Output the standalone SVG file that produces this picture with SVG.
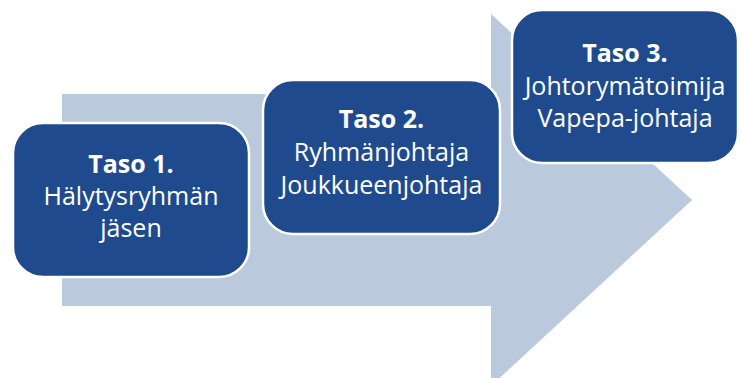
<svg xmlns="http://www.w3.org/2000/svg" width="741" height="378" viewBox="0 0 741 378">
<style>
.box{fill:#1F4B8E;stroke:#FFFFFF;stroke-width:2.5}
text{font-family:"Open Sans","Liberation Sans",sans-serif;font-size:25px;fill:#FFFFFF;text-anchor:middle}
.b{font-weight:bold}
</style>
<rect width="741" height="378" fill="#FFFFFF"/>
<g id="arrow">
<polygon points="62,94 491,94 491,14 692,200 491,386 491,306 62,306" fill="#BACADC"/>
</g>
<g id="connectors"></g>
<g id="level1">
<rect class="box" x="13" y="123" width="236" height="154" rx="30"/>
<text class="b" x="131" y="173">Taso 1.</text>
<text x="131" y="205">Hälytysryhmän</text>
<text x="131" y="237">jäsen</text>
</g>
<g id="level2">
<rect class="box" x="263" y="80" width="237" height="154" rx="30"/>
<text class="b" x="381.5" y="128">Taso 2.</text>
<text x="381.5" y="161">Ryhmänjohtaja</text>
<text x="381.5" y="194">Joukkueenjohtaja</text>
</g>
<g id="level3">
<rect class="box" x="512" y="10" width="226" height="153" rx="30"/>
<text class="b" x="625" y="62">Taso 3.</text>
<text x="625" y="95">Johtorymätoimija</text>
<text x="625" y="127">Vapepa-johtaja</text>
</g>
</svg>
